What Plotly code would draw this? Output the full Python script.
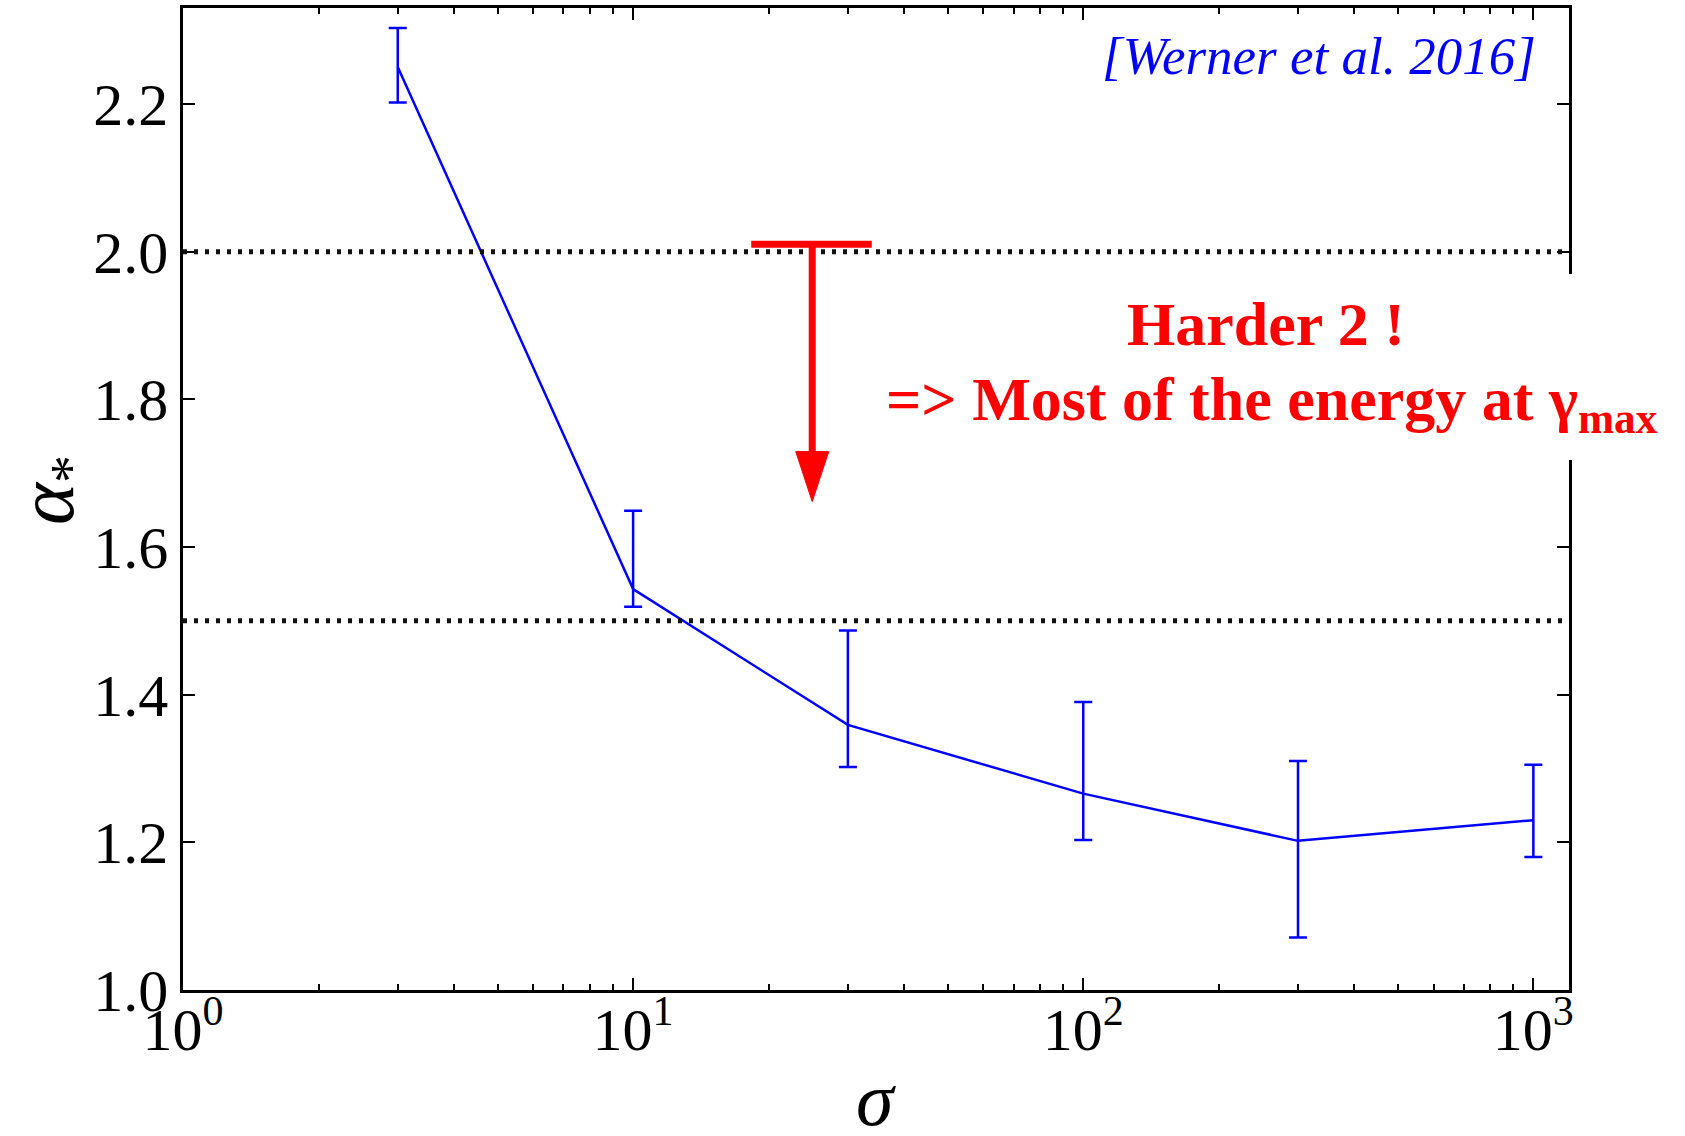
import math
import plotly.graph_objects as go

# Power-law index alpha_* versus magnetization sigma (with asymmetric error bars)
sigma = [3, 10, 30, 100, 300, 1000]
alpha_star = [2.250, 1.543, 1.359, 1.266, 1.202, 1.230]
alpha_upper = [2.303, 1.649, 1.487, 1.390, 1.310, 1.305]
alpha_lower = [2.202, 1.519, 1.302, 1.203, 1.071, 1.180]

# Reference indices drawn as dotted horizontal lines
ref_levels = [2.0, 1.5]

x_tick_vals = [1, 10, 100, 1000]
x_tick_text = ["10<sup>0</sup>", "10<sup>1</sup>", "10<sup>2</sup>", "10<sup>3</sup>"]
x_minor_vals = [m * d for d in (1, 10, 100) for m in range(2, 10)]
y_tick_vals = [1.0, 1.2, 1.4, 1.6, 1.8, 2.0, 2.2]

x_range = [1, 1200]
y_range = [1.0, 2.33]

# "Harder than 2" marker: bar at alpha = 2 with an arrow pointing down
arrow_sigma = 25
bar_sigma = (18.3, 33.9)
arrow_start = 2.01
arrow_tip = 1.6615

W, H = 1685, 1136
margin = dict(l=183, r=116, t=8, b=146)
plot_w = W - margin["l"] - margin["r"]
plot_h = H - margin["t"] - margin["b"]
px_per_decade = plot_w / math.log10(x_range[1] / x_range[0])
px_per_unit = plot_h / (y_range[1] - y_range[0])


def paper_x(px):
    return (px - margin["l"]) / plot_w


def paper_y(py):
    return (H - margin["b"] - py) / plot_h


BLUE = "#0000ff"
RED = "#ff0000"
SERIF = "Liberation Serif, DejaVu Serif, serif"

lo_err = [v - lo for v, lo in zip(alpha_star, alpha_lower)]
hi_err = [hi - v for v, hi in zip(alpha_star, alpha_upper)]

fig = go.Figure()
fig.add_trace(go.Scatter(
    x=sigma, y=alpha_star, mode="lines",
    line=dict(color=BLUE, width=2.5),
    error_y=dict(type="data", symmetric=False, array=hi_err, arrayminus=lo_err,
                 color=BLUE, thickness=2.5, width=9),
    hoverinfo="x+y",
))

shapes = []
for lvl in ref_levels:
    shapes.append(dict(type="line", xref="paper", yref="y", x0=0, x1=1, y0=lvl, y1=lvl,
                       line=dict(color="#111111", width=5, dash="4px,7px")))

# white backdrop behind the red annotation text (covers the right spine)
shapes.append(dict(type="rect", xref="paper", yref="paper",
                   x0=paper_x(872), x1=paper_x(1684), y0=paper_y(460), y1=paper_y(274),
                   fillcolor="white", line=dict(width=0), layer="above"))

# arrow: horizontal bar, shaft, triangular head
head_len = 50 / px_per_unit
head_half = 16.5 / px_per_decade
head_base = arrow_tip + head_len
shapes.append(dict(type="line", xref="x", yref="y", x0=bar_sigma[0], x1=bar_sigma[1],
                   y0=arrow_start, y1=arrow_start, line=dict(color=RED, width=7)))
shapes.append(dict(type="line", xref="x", yref="y", x0=arrow_sigma, x1=arrow_sigma,
                   y0=arrow_start, y1=head_base - 0.005, line=dict(color=RED, width=7)))
xl = arrow_sigma * 10 ** (-head_half)
xr = arrow_sigma * 10 ** (head_half)
shapes.append(dict(type="path", xref="x", yref="y",
                   path=f"M {xl},{head_base} L {xr},{head_base} L {arrow_sigma},{arrow_tip} Z",
                   fillcolor=RED, line=dict(color=RED, width=1)))

RED_FONT = dict(family=SERIF, size=62, color=RED)
annotations = [
    dict(text="<i>[Werner et al. 2016]</i>", xref="paper", yref="paper",
         x=paper_x(1538), y=paper_y(56), xanchor="right", yanchor="middle",
         showarrow=False, font=dict(family=SERIF, size=53, color=BLUE)),
    dict(text="<b>Harder 2 !</b>", xref="paper", yref="paper",
         x=paper_x(1266), y=paper_y(324), xanchor="center", yanchor="middle",
         showarrow=False, font=RED_FONT),
    dict(text="<b>=> Most of the energy at γ<sub>max</sub></b>", xref="paper", yref="paper",
         x=paper_x(884), y=paper_y(403), xanchor="left", yanchor="middle",
         showarrow=False, font=RED_FONT),
    # axis titles
    dict(text="<i>σ</i>", xref="paper", yref="paper",
         x=0.5, y=paper_y(1099), xanchor="center", yanchor="middle",
         showarrow=False, font=dict(family=SERIF, size=76, color="black")),
    dict(text="<i>α</i><sub>*</sub>", xref="paper", yref="paper", textangle=-90,
         x=paper_x(52), y=paper_y(490), xanchor="center", yanchor="middle",
         showarrow=False, font=dict(family=SERIF, size=80, color="black")),
]

axis_common = dict(
    showline=True, linecolor="black", linewidth=2.5, mirror="allticks",
    ticks="inside", ticklen=12, tickwidth=1.5, tickcolor="black",
    showgrid=False, zeroline=False, automargin=False,
    tickfont=dict(family=SERIF, size=60, color="black"),
)

fig.update_layout(
    width=W, height=H, margin=margin,
    paper_bgcolor="white", plot_bgcolor="white",
    showlegend=False,
    shapes=shapes, annotations=annotations,
    xaxis=dict(
        type="log", range=[math.log10(x_range[0]), math.log10(x_range[1])],
        tickmode="array", tickvals=x_tick_vals, ticktext=x_tick_text,
        ticklabelstandoff=-15,
        minor=dict(ticks="inside", ticklen=6, tickwidth=1.5, tickcolor="black",
                   tickvals=x_minor_vals, showgrid=False),
        **axis_common,
    ),
    yaxis=dict(
        range=y_range, tickmode="array", tickvals=y_tick_vals, tickformat=".1f",
        **axis_common,
    ),
)

fig.write_html("out.html")
